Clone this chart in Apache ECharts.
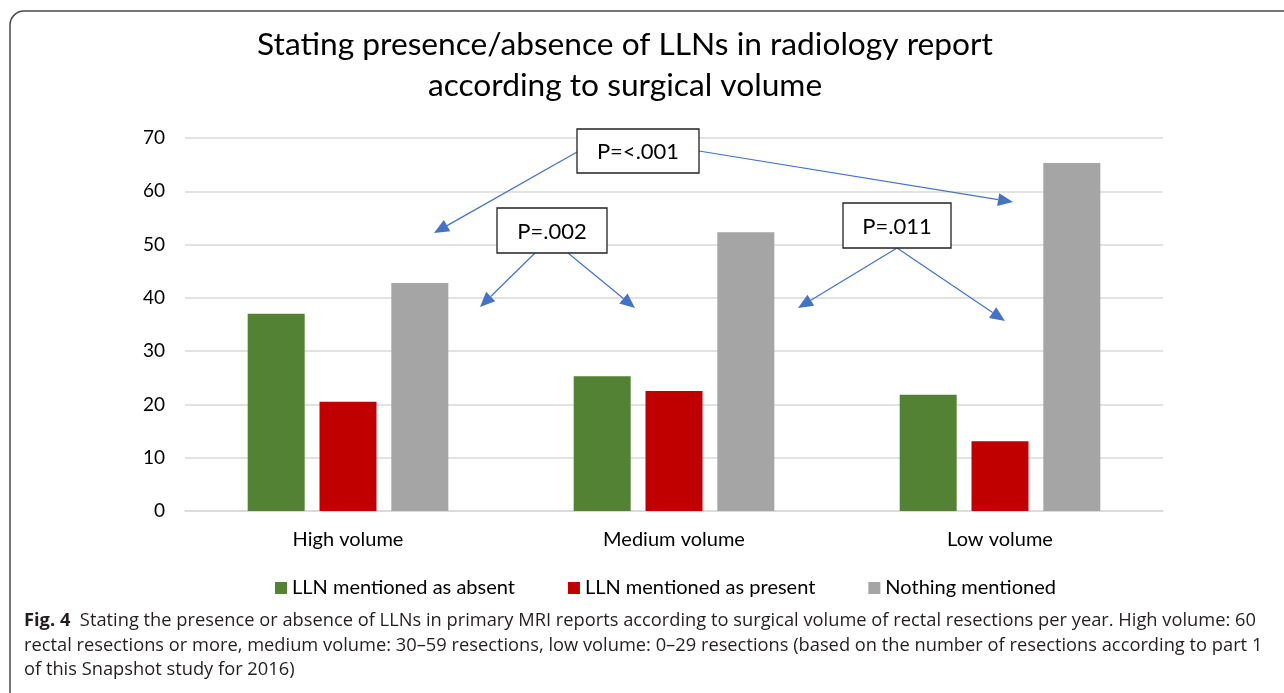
<!DOCTYPE html>
<html><head><meta charset="utf-8">
<script src="https://cdn.jsdelivr.net/npm/echarts@6/dist/echarts.min.js"></script>
<style>html,body{margin:0;padding:0;background:#fff}#c{width:1284px;height:693px}</style>
</head><body><div id="c"></div>
<script>
const categories = ['High volume', 'Medium volume', 'Low volume'];
const seriesNames = ['LLN mentioned as absent', 'LLN mentioned as present', 'Nothing mentioned'];
const absentVals = [37.0, 25.3, 21.8];
const presentVals = [20.5, 22.5, 13.1];
const nothingVals = [42.8, 52.3, 65.3];
const yTicks = [0, 10, 20, 30, 40, 50, 60, 70];
const titleLines = ['Stating presence/absence of LLNs in radiology report', 'according to surgical volume'];
const pLabels = ['P=<.001', 'P=.002', 'P=.011'];
const captionBold = 'Fig. 4';
const captionLines = [
  'Stating the presence or absence of LLNs in primary MRI reports according to surgical volume of rectal resections per year. High volume: 60',
  'rectal resections or more, medium volume: 30\u201359 resections, low volume: 0\u201329 resections (based on the number of resections according to part 1',
  'of this Snapshot study for 2016)'
];

const colors = ['#548235', '#C00000', '#A5A5A5'];
const FONT = 'Lato';
const CFONT = '"Open Sans"';
const BLUE = '#4472C4';

function arrow(x1, y1, x2, y2) {
  const dx = x2 - x1, dy = y2 - y1, L = Math.hypot(dx, dy);
  const ux = dx / L, uy = dy / L, hl = 15, hw = 6.5;
  const bx = x2 - ux * hl, by = y2 - uy * hl;
  return [
    {type: 'line', shape: {x1, y1, x2: bx, y2: by}, style: {stroke: BLUE, lineWidth: 1.2}, z: 10},
    {type: 'polygon', shape: {points: [[x2, y2], [bx - uy * hw, by + ux * hw], [bx + uy * hw, by - ux * hw]]}, style: {fill: BLUE}, z: 10}
  ];
}
function box(x, y, w, h, text) {
  return [
    {type: 'rect', shape: {x, y, width: w, height: h}, style: {fill: '#fff', stroke: '#222', lineWidth: 1.3}, z: 11},
    {type: 'text', x: x + w / 2, y: y + h / 2 + 1, style: {text, fill: '#000', font: '22px ' + FONT, align: 'center', verticalAlign: 'middle'}, z: 12}
  ];
}

const graphics = [
  {type: 'rect', shape: {x: 10, y: 11, width: 1320, height: 720, r: 14}, style: {fill: 'none', stroke: '#4a4a4a', lineWidth: 1.5}, z: 1},
  ...arrow(577, 152, 434, 233), ...arrow(699, 151, 1013, 202),
  ...arrow(535, 253, 480, 307), ...arrow(568, 253, 635, 308),
  ...arrow(897, 248, 798, 308), ...arrow(897, 248, 1005, 321),
  ...box(577, 129, 122, 44, pLabels[0]),
  ...box(497, 208, 110, 45, pLabels[1]),
  ...box(843, 203, 108, 45, pLabels[2]),
  {type: 'text', x: 625, y: 45, style: {text: titleLines[0], fill: '#000', font: '31.7px ' + FONT, align: 'center', verticalAlign: 'middle'}},
  {type: 'text', x: 625, y: 86, style: {text: titleLines[1], fill: '#000', font: '31.7px ' + FONT, align: 'center', verticalAlign: 'middle'}},
  {type: 'text', x: 24, y: 621, style: {rich: {b: {font: 'bold 18.3px ' + CFONT, fill: '#231f20'}, n: {font: '18.3px ' + CFONT, fill: '#231f20'}}, text: '{b|' + captionBold + '}{n|  ' + captionLines[0] + '}', verticalAlign: 'middle'}},
  {type: 'text', x: 24, y: 646, style: {text: captionLines[1], font: '18.3px ' + CFONT, fill: '#231f20', verticalAlign: 'middle'}},
  {type: 'text', x: 24, y: 670, style: {text: captionLines[2], font: '18.3px ' + CFONT, fill: '#231f20', verticalAlign: 'middle'}}
];

const vals = [absentVals, presentVals, nothingVals];
const chart = echarts.init(document.getElementById('c'));
chart.setOption({
  animation: false,
  color: colors,
  grid: {left: 185, right: 121, top: 138, bottom: 182, containLabel: false},
  legend: {
    data: seriesNames, left: 270, top: 573, icon: 'rect', itemWidth: 12, itemHeight: 12, itemGap: 53,
    textStyle: {fontFamily: FONT, fontSize: 20, color: '#000'}
  },
  xAxis: {
    type: 'category', data: categories,
    axisLine: {lineStyle: {color: '#d9d9d9', width: 1.5}}, axisTick: {show: false},
    axisLabel: {fontFamily: FONT, fontSize: 20, color: '#000', margin: 19}
  },
  yAxis: {
    type: 'value', min: yTicks[0], max: yTicks[yTicks.length - 1], interval: 10,
    axisLine: {show: false}, axisTick: {show: false},
    splitLine: {lineStyle: {color: '#d9d9d9', width: 1.5}},
    axisLabel: {fontFamily: FONT, fontSize: 19, color: '#000', margin: 20}
  },
  series: seriesNames.map((n, i) => ({
    name: n, type: 'bar', data: vals[i], barWidth: 57, barGap: '26%'
  })),
  graphic: graphics
});
</script></body></html>
